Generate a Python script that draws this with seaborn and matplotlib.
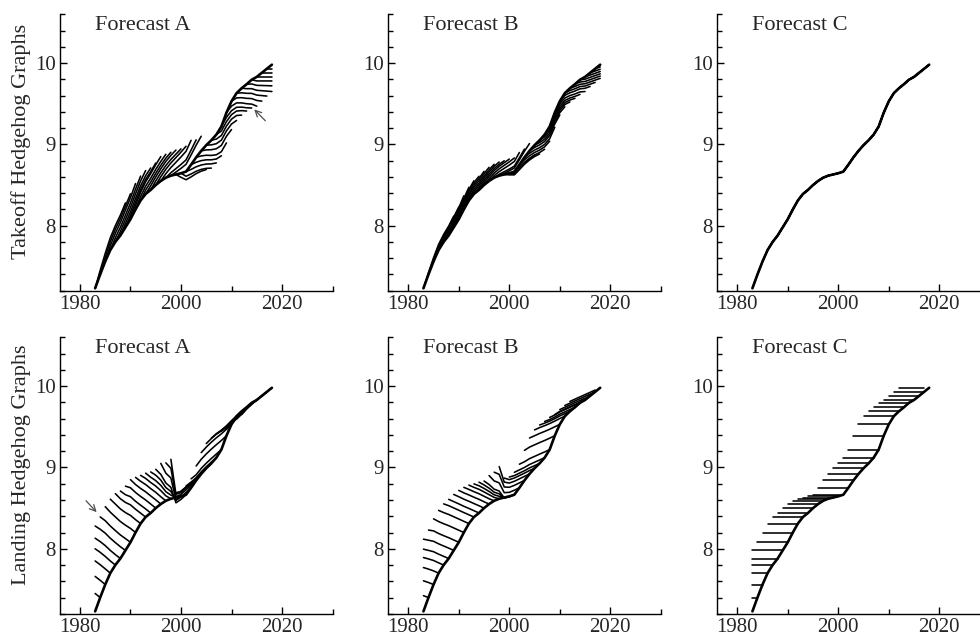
import numpy as np
import pandas as pd
import matplotlib
matplotlib.use("Agg")
import matplotlib.pyplot as plt
from matplotlib.ticker import MultipleLocator
import seaborn as sns

years = list(range(1983, 2019))
actual = [7.23, 7.40, 7.56, 7.70, 7.80, 7.88, 7.98, 8.08, 8.20, 8.31,
          8.39, 8.44, 8.50, 8.55, 8.59, 8.615, 8.63, 8.645, 8.665, 8.75,
          8.84, 8.92, 8.99, 9.05, 9.12, 9.22, 9.39, 9.53, 9.63, 9.69,
          9.74, 9.795, 9.83, 9.88, 9.93, 9.98]

# forecast error per year of horizon, by forecast origin 1983..2017
origins = years[:-1]
drift_a = [0.050, 0.052, 0.053, 0.050, 0.048, 0.045, 0.045, 0.050, 0.048, 0.048,
           0.050, 0.050, 0.052, 0.050, 0.036, 0.030, -0.050, -0.057, -0.058, -0.060,
           -0.062, -0.058, -0.056, -0.055, -0.055, -0.058, -0.060, -0.058, -0.056, -0.055,
           -0.052, -0.050, -0.050, -0.050, -0.050]
drift_b = [0.023, 0.025, 0.028, 0.027, 0.027, 0.028, 0.028, 0.028, 0.0275, 0.028,
           0.028, 0.029, 0.028, 0.025, 0.017, 0.015, -0.020, -0.028, -0.030, -0.030,
           -0.030, -0.028, -0.028, -0.028, -0.029, -0.030, -0.030, -0.028, -0.028, -0.028,
           -0.028, -0.028, -0.028, -0.028, -0.028]
drift_c = [0.0] * len(origins)   # Forecast C hits the outcome exactly
horizon = 6

forecasts = {'Forecast A': drift_a, 'Forecast B': drift_b, 'Forecast C': drift_c}
row_labels = ['Takeoff Hedgehog Graphs', 'Landing Hedgehog Graphs']


def build_paths(drift):
    rows = []
    for i, origin in enumerate(origins):
        for h in range(horizon + 1):
            target = origin + h
            if target > years[-1]:
                break
            rows.append({'origin': origin, 'target': target,
                         'value': actual[target - years[0]] + drift[i] * h})
    return pd.DataFrame(rows)


sns.set_style("ticks")
plt.rcParams['font.family'] = ['Liberation Serif', 'DejaVu Serif']

fig = plt.figure(figsize=(9.8, 6.37), dpi=100)
lefts = [0.061, 0.396, 0.7317]
bottoms = [0.5436, 0.0364]
w, hgt = 0.2783, 0.434
arrow_style = dict(arrowstyle='->', color='0.3', lw=0.9, mutation_scale=11,
                   shrinkA=0, shrinkB=0)

for r, row_name in enumerate(row_labels):
    for c, (name, drift) in enumerate(forecasts.items()):
        ax = fig.add_axes([lefts[c], bottoms[r], w, hgt])
        paths = build_paths(drift)
        if r == 0:
            sns.lineplot(data=paths, x='target', y='value', units='origin',
                         estimator=None, color='black', lw=1.15, ax=ax, legend=False)
        else:
            sns.lineplot(data=paths, x='origin', y='value', units='target',
                         estimator=None, color='black', lw=1.15, ax=ax, legend=False)
        sns.lineplot(x=years, y=actual, color='black', lw=1.9, ax=ax)

        ax.set_xlim(1976, 2030)
        ax.set_ylim(7.2, 10.6)
        ax.xaxis.set_major_locator(MultipleLocator(20))
        ax.xaxis.set_minor_locator(MultipleLocator(10))
        ax.yaxis.set_major_locator(MultipleLocator(1))
        ax.yaxis.set_minor_locator(MultipleLocator(0.2))
        ax.tick_params(which='both', direction='in', labelsize=15, width=1.0, color='black')
        ax.tick_params(which='major', length=5, pad=3)
        ax.tick_params(which='minor', length=3.5)
        sns.despine(ax=ax)
        for s in ['left', 'bottom']:
            ax.spines[s].set_linewidth(1.0)
            ax.spines[s].set_color('black')
        ax.set_xlabel('')
        ax.set_ylabel('')
        ax.text(1983, 10.41, name, fontsize=16, va='baseline', ha='left')

        if c == 0:
            ax.set_ylabel(row_name, fontsize=16)
            ax.yaxis.set_label_coords(-0.105, 0.54)

        if r == 0 and c == 0:
            ax.annotate('', xy=(2014.5, 9.43), xytext=(2016.7, 9.29),
                        arrowprops=arrow_style)
        if r == 1 and c == 0:
            ax.annotate('', xy=(1983.3, 8.45), xytext=(1981.2, 8.59),
                        arrowprops=arrow_style)

plt.savefig('out.png', dpi=100)
